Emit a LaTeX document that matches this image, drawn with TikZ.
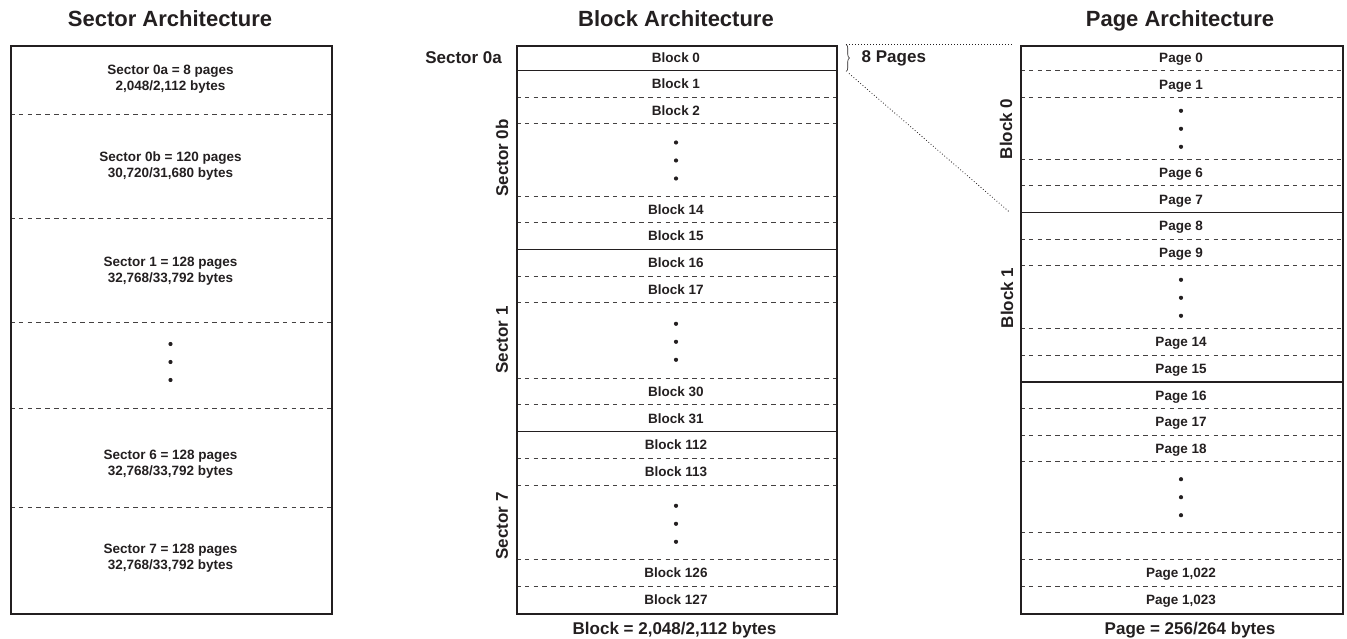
\documentclass[tikz,border=0pt]{standalone}
\usepackage{fontspec}
\setmainfont{Liberation Sans}
\usetikzlibrary{decorations.pathreplacing}
\definecolor{ink}{RGB}{35,31,32}
\tikzset{
    cell/.style={font=\bfseries\fontsize{13.5}{16}\selectfont, text=ink, inner sep=0pt, align=center},
    rowtext/.style={cell, anchor=base, yshift=-4.8pt},
    side/.style={font=\bfseries\fontsize{17}{20}\selectfont, text=ink, inner sep=0pt},
    heading/.style={font=\bfseries\fontsize{22}{26}\selectfont, text=ink, inner sep=0pt, anchor=base},
    frame/.style={draw=ink, line width=2.4pt, anchor=north west, inner sep=0pt},
    split/.style={draw=ink, line width=1.3pt},
    subsplit/.style={draw=ink!85, line width=1pt, dash pattern=on 4.5pt off 4.3pt},
    zoomline/.style={draw=ink, line width=0.8pt, dash pattern=on 0.8pt off 2.2pt},
}
% three stacked dots, centred at (#1,#2)
\newcommand{\dotstack}[2]{\foreach \dy in {-18,0,18} \fill[ink] (#1,#2+\dy) circle (2.1pt);}

\begin{document}
\begin{tikzpicture}[x=1pt,y=-1pt]
    \useasboundingbox (0,0) rectangle (1347,639);

    % headings
    \node[heading] (sectitle) at (170,26.7) {Sector Architecture};
    \node[heading] (blktitle) at (676,26.7) {Block Architecture};
    \node[heading] (pgtitle) at (1180,26.7) {Page Architecture};

    % sector column
    \foreach \y in {114.3,219,322,408,507} {
        \draw[subsplit] (10,\y) -- (331,\y);
    }
    \node[cell] (sec0a) at (170.5,78.8) {Sector 0a = 8 pages\\2,048/2,112 bytes};
    \node[cell] (sec0b) at (170.5,166.3) {Sector 0b = 120 pages\\30,720/31,680 bytes};
    \node[cell] (sec1) at (170.5,271.3) {Sector 1 = 128 pages\\32,768/33,792 bytes};
    \node[cell] (sec6) at (170.5,464) {Sector 6 = 128 pages\\32,768/33,792 bytes};
    \node[cell] (sec7) at (170.5,558.6) {Sector 7 = 128 pages\\32,768/33,792 bytes};
    \dotstack{170.5}{362}
    \node[frame, minimum width=321pt, minimum height=568pt] (secframe) at (10,45) {};

    % block column
    \foreach \y in {70.7,249.3,431.7} {
        \draw[split] (516,\y) -- (836,\y);
    }
    \foreach \y in {97.7,123.7,196.7,222.7,276,302.7,378,404.7,458.3,485,559.3,586} {
        \draw[subsplit] (516,\y) -- (836,\y);
    }
    \foreach \y/\t [count=\i] in {57.9/Block 0,84.2/Block 1,110.7/Block 2,209.7/Block 14,236/Block 15,
        263/Block 16,289.3/Block 17,391.3/Block 30,418.2/Block 31,
        445/Block 112,471.7/Block 113,572.7/Block 126,599.5/Block 127} {
        \node[rowtext] (blk\i) at (676,\y) {\t};
    }
    \dotstack{676}{160.5}
    \dotstack{676}{341.8}
    \dotstack{676}{523.8}
    \node[frame, minimum width=320pt, minimum height=568pt] (blkframe) at (516,45) {};

    \node[side, anchor=east] (lab0a) at (502,58) {Sector 0a};
    \node[side, rotate=90] (lab0b) at (502,158) {Sector 0b};
    \node[side, rotate=90] (lab1) at (502,340) {Sector 1};
    \node[side, rotate=90] (lab7) at (502,526) {Sector 7};
    \node[side, anchor=base] (blksize) at (674.5,634) {Block = 2,048/2,112 bytes};

    % zoom from block 0 to its pages
    \coordinate (bracetop) at (846,44.5);
    \coordinate (bracebot) at (846,71.5);
    \coordinate (zoomtop) at (1012,44.5);
    \coordinate (zoombot) at (1010,212.5);
    \draw[ink, line width=0.6pt, decorate, decoration={brace, amplitude=3.5pt}] (bracetop) -- (bracebot);
    \node[side, anchor=west] (eightpg) at (861.5,58) {8 Pages};
    \draw[zoomline] (bracetop) -- (zoomtop);
    \draw[zoomline] ([xshift=3pt,yshift=-2pt]bracebot) -- (zoombot);

    % page column
    \foreach \y in {212.7,382} {
        \draw[split] (1020,\y) -- (1342,\y);
    }
    \foreach \y in {71,97.7,160,186,239.3,266,328.3,355.3,408.3,435,461.7,532.7,559.3,586} {
        \draw[subsplit] (1020,\y) -- (1342,\y);
    }
    \foreach \y/\t [count=\i] in {58/Page 0,84.3/Page 1,173/Page 6,199.3/Page 7,226/Page 8,252.7/Page 9,
        341.8/Page 14,368.7/Page 15,395.2/Page 16,421.7/Page 17,448.3/Page 18,
        572.7/{Page 1,022},599.2/{Page 1,023}} {
        \node[rowtext] (pg\i) at (1181,\y) {\t};
    }
    \dotstack{1181}{128.8}
    \dotstack{1181}{297.8}
    \dotstack{1181}{497.2}
    \node[frame, minimum width=322pt, minimum height=567.5pt] (pgframe) at (1020,45) {};

    \node[side, rotate=90] (labb0) at (1006,129) {Block 0};
    \node[side, rotate=90] (labb1) at (1007,298) {Block 1};
    \node[side, anchor=base] (pgsize) at (1190,634) {Page = 256/264 bytes};
\end{tikzpicture}
\end{document}
